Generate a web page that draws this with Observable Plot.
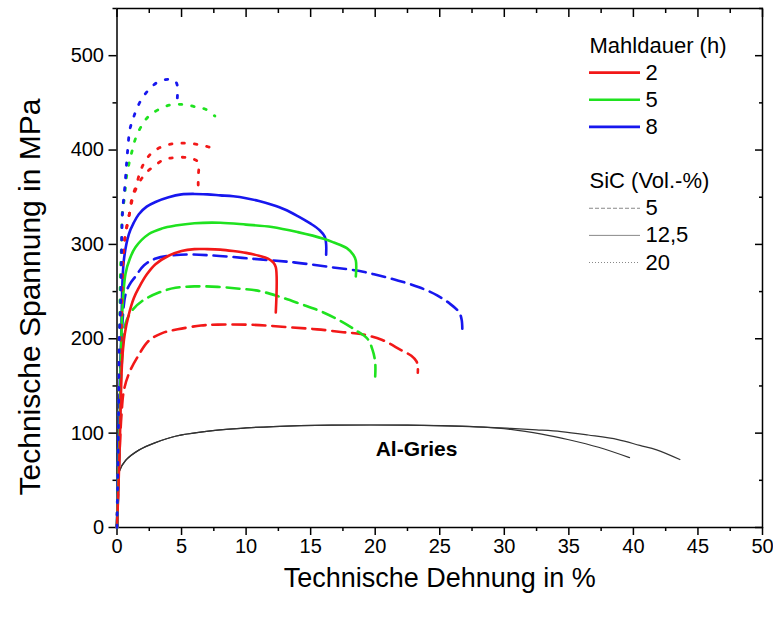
<!DOCTYPE html>
<html><head><meta charset="utf-8">
<script src="https://cdn.jsdelivr.net/npm/d3@7"></script>
<script src="https://cdn.jsdelivr.net/npm/@observablehq/plot@0.6"></script>
<style>
body{margin:0;background:#fff;}
#wrap{position:relative;width:773px;height:621px;font-family:"Liberation Sans",Arial,sans-serif;}
#legend{position:absolute;left:580px;top:20px;}
</style></head><body><div id="wrap"><div id="legend"></div></div>
<script>
// ---- axis ticks ----
const xMajor = [0,5,10,15,20,25,30,35,40,45,50];
const xMinor = [2.5,7.5,12.5,17.5,22.5,27.5,32.5,37.5,42.5,47.5];
const yMajor = [0,100,200,300,400,500];
const yMinor = [50,150,250,350,450,550];

// ---- curves: [Dehnung %, Spannung MPa] ----
// 12,5 Vol.-% SiC (solid)
const red12 = [[0,0],[0.2,80],[0.4,177],[0.6,205],[0.92,226],[1.3,243],[1.69,254],[2.3,268],[2.98,279],[4,288],[5,293],[6,295],[7,295],[8,294.5],[9,293],[10,291],[11,288],[11.7,285],[12.1,281],[12.3,276],[12.3,228]];
const green12 = [[0,0],[0.2,100],[0.4,226],[0.66,269],[1,285],[1.43,297],[2.47,311],[3.5,317],[4.53,320],[6,322.5],[8,323],[10,321],[12,318.5],[14,313],[16,306],[16.8,302],[17.8,296],[18.3,289],[18.5,283],[18.5,266]];
const blue12 = [[0,0],[0.2,100],[0.35,220],[0.53,283],[0.92,311],[1.3,323],[1.69,332],[2.3,340],[2.98,345],[4,350],[5,353],[6,353.5],[7,353],[8,352],[9,351],[10,349],[11,346],[12,342],[13,337],[14,330],[15,322],[15.7,315],[16.1,308],[16.2,300],[16.2,289]];
// 5 Vol.-% SiC (dashed)
const red5 = [[0,0],[0.2,80],[0.35,120],[0.53,145],[0.92,163],[1.56,180],[2.47,198],[3.5,206],[4.7,210],[6.5,214],[7.8,215],[10,215],[11.6,214],[13.5,212],[15.5,210],[17.5,207],[18.9,205],[20.5,199],[22,188],[22.8,182],[23.2,176],[23.3,170],[23.3,164]];
const green5 = [[0,0],[0.2,120],[0.4,180],[0.66,216],[1.17,230],[1.95,240],[3.24,249],[4.53,254],[6,255.5],[7.8,255],[9.5,253],[10.9,251],[12.5,245],[14.2,237],[15.8,229],[17.3,219],[18.5,209],[19.4,200],[19.8,188],[20,175],[20,160]];
const blue5 = [[0,0],[0.15,120],[0.35,200],[0.66,247],[1,258],[1.43,266],[2.1,278],[3,285],[4.9,289],[7.2,288.5],[10.3,285],[13.7,281],[16.5,276],[18.7,272],[20.3,267],[21.8,261.6],[23.4,254.6],[24.8,246],[25.8,237],[26.5,228],[26.7,220],[26.75,208]];
// 20 Vol.-% SiC (dotted)
const red20a = [[0,0],[0.15,100],[0.3,200],[0.45,280],[0.55,300],[0.71,315],[0.97,333],[1.17,350],[1.48,362],[1.82,378],[2.26,390],[2.78,398],[3.55,404],[4.53,407],[5.56,407],[6.65,405],[7.37,402]];
const red20b = [[0,0],[0.15,100],[0.3,200],[0.45,280],[0.55,300],[0.71,315],[0.97,333],[1.3,353],[1.87,369],[2.41,378],[2.9,383],[3.63,390],[4.45,392],[5.48,392],[6.0,390],[6.29,387],[6.29,370],[6.29,353]];
const green20 = [[0,0],[0.1,100],[0.2,200],[0.27,272],[0.35,300],[0.4,332],[0.58,350],[0.74,372],[1.0,390],[1.17,399],[1.43,412],[2.0,428],[2.54,437],[3.24,443],[4.2,448],[5.3,448],[6.29,445],[6.9,443],[7.58,436]];
const blue20 = [[0,0],[0.1,100],[0.2,212],[0.27,233],[0.32,262],[0.35,290],[0.38,315],[0.45,339],[0.53,350],[0.62,363],[0.7,378],[0.79,394],[1.0,422],[1.22,432],[1.51,443],[1.95,455],[2.47,464],[3.16,472],[4.01,475],[4.5,473],[4.66,469],[4.66,452]];
// Al-Gries (thin black)
const alA = [[0,0],[0.1,40],[0.2,60],[0.66,71],[1.69,82],[2.98,90],[4.6,97],[7.6,103],[10,105.5],[12.1,107],[16.6,108.4],[22.5,108.4],[28.4,106.3],[30.5,104],[32.9,99],[35,93],[37.3,85],[39.7,74]];
const alB = [[0,0],[0.1,40],[0.2,60],[0.66,71],[1.69,82],[2.98,90],[4.6,97],[7.6,103],[10,105.5],[12.1,107],[16.6,108.4],[22.5,108.4],[28.4,106.3],[30.5,105],[32.5,103.5],[34.4,101.7],[36.5,98],[38.8,93.2],[40.5,87],[41.8,82.3],[43.6,72]];

// ---- annotation ----
const annotText = ["Al-Gries"];
const annotX = [23.2];
const annotY = [83];

// ---- legend ----
const legendTitles = ["Mahldauer (h)", "SiC (Vol.-%)"];
const legendTitleRows = [0, 5];
const mahlLabels = ["2", "5", "8"];
const mahlRows = [1, 2, 3];
const sicLabels = ["5", "12,5", "20"];
const sicRows = [6, 7, 8];

const RED = "#f21818", GREEN = "#1fe21f", BLUE = "#1717ee";
const mahlColors = [RED, GREEN, BLUE];
const DASH = "13,7", DOT = "2.5,10";
const sicDash = ["4,2", null, "1,2"];

const font = '"Liberation Sans", Arial, sans-serif';
const px = d => d[0], py = d => d[1];
const curve = (data, stroke, dash, w = 2.6) =>
  Plot.line(data, {x: px, y: py, stroke, strokeWidth: w, strokeDasharray: dash, curve: "catmull-rom"});

const chart = Plot.plot({
  width: 773, height: 621,
  marginLeft: 116.5, marginRight: 11, marginTop: 8, marginBottom: 94,
  style: {fontFamily: font, fontSize: "20px", color: "black", background: "white"},
  x: {domain: [0, 50]},
  y: {domain: [0, 550]},
  marks: [
    // axes
    Plot.axisX(xMajor, {anchor: "bottom", tickSize: 8, tickPadding: 3, strokeWidth: 1.5, fontSize: 20, label: null}),
    Plot.axisX(xMinor, {anchor: "bottom", tickSize: 4, strokeWidth: 1.5, text: null, label: null}),
    Plot.axisX(xMajor, {anchor: "top", tickSize: 8, dy: 8, strokeWidth: 1.5, text: null, label: null}),
    Plot.axisX(xMinor, {anchor: "top", tickSize: 4, dy: 4, strokeWidth: 1.5, text: null, label: null}),
    Plot.axisY(yMajor, {anchor: "left", tickSize: 8, tickPadding: 5, strokeWidth: 1.5, fontSize: 20, label: null}),
    Plot.axisY(yMinor, {anchor: "left", tickSize: 4, strokeWidth: 1.5, text: null, label: null}),
    Plot.axisY(yMajor, {anchor: "right", tickSize: 8, dx: -8, strokeWidth: 1.5, text: null, label: null}),
    Plot.axisY(yMinor, {anchor: "right", tickSize: 4, dx: -4, strokeWidth: 1.5, text: null, label: null}),
    Plot.frame({stroke: "black", strokeWidth: 1.5}),
    // axis titles
    Plot.text(["Technische Dehnung in %"], {frameAnchor: "bottom", textAnchor: "middle", lineAnchor: "middle", dy: 51, fontSize: 27}),
    Plot.text(["Technische Spannung in MPa"], {frameAnchor: "left", textAnchor: "middle", lineAnchor: "middle", rotate: -90, dx: -87, dy: 29, fontSize: 30}),
    // curves
    curve(alA, "#333", null, 1.2),
    curve(alB, "#333", null, 1.2),
    curve(red5, RED, DASH),
    curve(green5, GREEN, DASH),
    curve(blue5, BLUE, DASH),
    curve(blue12, BLUE, null),
    curve(green12, GREEN, null),
    curve(red12, RED, null),
    curve(red20a, RED, DOT, 2.8),
    curve(red20b, RED, DOT, 2.8),
    curve(green20, GREEN, DOT, 2.8),
    curve(blue20, BLUE, DOT, 2.8),
    Plot.text(annotText, {x: annotX, y: annotY, fontWeight: "bold", fontSize: 21})
  ]
});
document.getElementById("wrap").prepend(chart);

const legend = Plot.plot({
  width: 190, height: 260, margin: 0,
  style: {fontFamily: font, fontSize: "22px", color: "black", background: "transparent"},
  x: {domain: [0, 1], range: [9, 60], axis: null},
  y: {domain: [0, 8], range: [25, 242], axis: null},
  marks: [
    Plot.text(legendTitles, {x: 0, y: legendTitleRows, textAnchor: "start", fontSize: 22}),
    Plot.ruleY(mahlLabels, {y: mahlRows, x1: 0, x2: 1, stroke: mahlColors, strokeWidth: 2.6}),
    Plot.text(mahlLabels, {x: 1, y: mahlRows, dx: 5, textAnchor: "start", fontSize: 22}),
    ...sicLabels.map((s, i) => Plot.ruleY([s], {y: [sicRows[i]], x1: 0, x2: 1, stroke: "#888", strokeWidth: 1, strokeDasharray: sicDash[i]})),
    Plot.text(sicLabels, {x: 1, y: sicRows, dx: 5, textAnchor: "start", fontSize: 22})
  ]
});
document.getElementById("legend").appendChild(legend);
</script></body></html>
